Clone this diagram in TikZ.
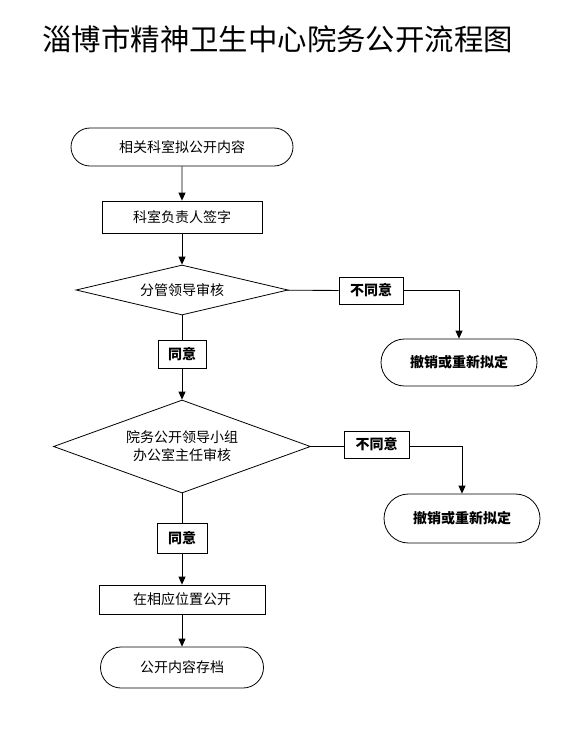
\documentclass[tikz,border=0pt]{standalone}
\usepackage{fontspec}
\setmainfont{Noto Sans CJK SC}
\usetikzlibrary{shapes.geometric,shapes.misc,arrows.meta}
\begin{document}
\begin{tikzpicture}[x=1pt,y=-1pt,
  every node/.style={font=\fontsize{14}{18}\selectfont, inner sep=0pt, align=center, line width=0.8pt},
  term/.style={draw, rounded rectangle},
  proc/.style={draw, rectangle},
  dec/.style={draw, diamond},
  lab/.style={draw, rectangle, font=\fontsize{14}{18}\selectfont\bfseries},
  conn/.style={line width=0.8pt, draw=black},
  arr/.style={conn, -{Triangle[length=8pt,width=7pt]}}]
\useasboundingbox (0,0) rectangle (585,747);
\node[font=\fontsize{29.4}{34}\selectfont, anchor=west] (title) at (42,39) {淄博市精神卫生中心院务公开流程图};

\node[term, minimum width=222pt, minimum height=38pt] (t1) at (182,147) {相关科室拟公开内容};
\node[proc, minimum width=160pt, minimum height=32pt] (b1) at (182,217) {科室负责人签字};
\node[dec, aspect=4.2, minimum width=212pt, minimum height=50pt] (d1) at (182,290) {分管领导审核};
\node[lab, minimum width=64pt, minimum height=27pt] (n1) at (371,290.5) {不同意};
\node[term, minimum width=156pt, minimum height=47pt, font=\fontsize{14}{18}\selectfont\bfseries] (r1) at (459,362.5) {撤销或重新拟定};
\node[lab, minimum width=48pt, minimum height=28pt] (y1) at (182,354) {同意};

\node[dec, aspect=2.76, minimum width=257pt, minimum height=93pt] (d2) at (182,446.5) {院务公开领导小组\\办公室主任审核};
\node[lab, minimum width=65pt, minimum height=27pt] (n2) at (376.5,444.5) {不同意};
\node[term, minimum width=156pt, minimum height=49pt, font=\fontsize{14}{18}\selectfont\bfseries] (r2) at (462,518.5) {撤销或重新拟定};
\node[lab, minimum width=50pt, minimum height=30pt] (y2) at (182,538) {同意};

\node[proc, minimum width=166pt, minimum height=29pt] (b2) at (182,599.5) {在相应位置公开};
\node[term, minimum width=163pt, minimum height=41pt] (t2) at (182,667.5) {公开内容存档};

\draw[arr] (t1) -- (b1);
\draw[arr] (b1) -- (d1);
\draw[conn] (d1) -- (n1);
\draw[arr] (n1.east) -| (r1.north);
\draw[conn] (d1) -- (y1);
\draw[arr] (y1) -- (d2);
\draw[conn] (d2.east) -- (n2.west |- d2.east);
\draw[arr] (n2.east |- d2.east) -| (r2.north);
\draw[conn] (d2) -- (y2);
\draw[arr] (y2) -- (b2);
\draw[arr] (b2) -- (t2);
\end{tikzpicture}
\end{document}
